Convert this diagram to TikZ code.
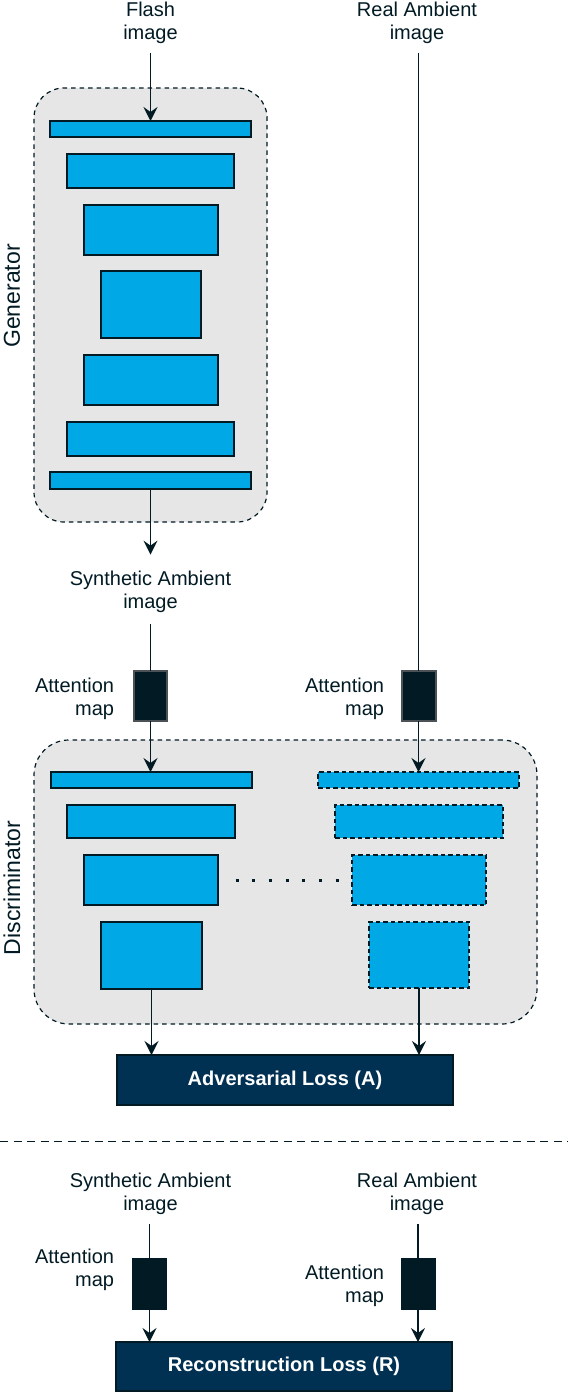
\documentclass[tikz,border=0pt]{standalone}
\usepackage{fontspec}
\setmainfont{Liberation Sans}
\usetikzlibrary{arrows.meta}
\definecolor{barblue}{HTML}{00A8E6}
\definecolor{ink}{HTML}{011A23}
\definecolor{panel}{HTML}{E6E6E6}
\definecolor{lossblue}{HTML}{003153}
\definecolor{attborder}{HTML}{4D5256}
\begin{document}
\begin{tikzpicture}[x=1pt,y=-1pt,
  every node/.style={inner sep=0pt, outer sep=0pt, font=\fontsize{20}{23.5}\selectfont, text=ink},
  container/.style={draw=ink, fill=panel, line width=1.2pt, dash pattern=on 4.5pt off 4pt, rectangle},
  bar/.style={draw=ink, fill=barblue, line width=2pt, rectangle},
  dbar/.style={bar, dash pattern=on 4.5pt off 3pt},
  attbox/.style={draw=attborder, fill=ink, line width=2pt, rectangle, minimum width=33pt, minimum height=50pt},
  attboxb/.style={draw=ink, fill=ink, line width=1pt, rectangle, minimum width=34pt, minimum height=51pt},
  loss/.style={draw=ink, fill=lossblue, line width=2pt, rectangle, minimum width=336pt, minimum height=50pt, text=white, font=\fontsize{20}{23.5}\selectfont\bfseries},
  lbl/.style={align=center},
  rlbl/.style={align=right, anchor=east},
  sidelbl/.style={rotate=90, font=\fontsize{23}{27}\selectfont},
  arr/.style={draw=ink, line width=1.5pt, -{Stealth[length=14pt, width=14pt, inset=5pt]}},
  conn/.style={draw=ink, line width=1.5pt},
]
\useasboundingbox (0,0) rectangle (568,1392);

% ---------- Generator ----------
\node[container, rounded corners=30pt, minimum width=233pt, minimum height=434pt] (gen) at (150.5,305) {};
\node[sidelbl] (genlbl) at (12,296) {Generator};
\node[bar, minimum width=201pt, minimum height=16pt] (g1) at (150.5,129) {};
\node[bar, minimum width=167pt, minimum height=34pt] (g2) at (150.5,171) {};
\node[bar, minimum width=134pt, minimum height=50pt] (g3) at (150.5,230) {};
\node[bar, minimum width=100pt, minimum height=67pt] (g4) at (150.5,304.5) {};
\node[bar, minimum width=134pt, minimum height=50pt] (g5) at (150.5,380) {};
\node[bar, minimum width=167pt, minimum height=34pt] (g6) at (150.5,439) {};
\node[bar, minimum width=201pt, minimum height=17pt] (g7) at (150.5,480.5) {};

\node[lbl] (flash) at (150.5,22.7) {Flash\\image};
\node[lbl] (real) at (417,22.7) {Real Ambient\\image};
\node[lbl] (synt) at (150.5,591.7) {Synthetic Ambient\\image};

\draw[arr, shorten <=9pt] (flash.south -| g1.north) -- (g1.north);
\draw[arr, shorten >=16pt] (g7.south) -- (g7.south |- synt.north);

% ---------- Attention maps (top) ----------
\node[attbox] (al1) at (150.5,696) {};
\node[attbox, minimum width=34pt] (ar1) at (418.5,696) {};
\node[rlbl] (attl1) at (114,698.7) {Attention\\map};
\node[rlbl] (attr1) at (384,698.7) {Attention\\map};

\draw[conn, shorten <=11pt] (synt.south -| al1.north) -- (al1.north);
\draw[conn, shorten <=9pt] (real.south -| ar1.north) -- (ar1.north);

% ---------- Discriminator ----------
\node[container, rounded corners=35pt, minimum width=503pt, minimum height=284pt] (disc) at (285.5,882) {};
\node[sidelbl] (disclbl) at (12,888) {Discriminator};

\node[bar, minimum width=201pt, minimum height=16pt] (dl1) at (151.5,780) {};
\node[bar, minimum width=168pt, minimum height=33pt] (dl2) at (151,821.5) {};
\node[bar, minimum width=134pt, minimum height=50pt] (dl3) at (151,880) {};
\node[bar, minimum width=101pt, minimum height=67pt] (dl4) at (151.5,955.5) {};

\node[dbar, minimum width=201pt, minimum height=16pt] (dr1) at (418.5,780) {};
\node[dbar, minimum width=168pt, minimum height=33pt] (dr2) at (419,821.5) {};
\node[dbar, minimum width=134pt, minimum height=50pt] (dr3) at (419,880) {};
\node[dbar, minimum width=100pt, minimum height=66pt] (dr4) at (419,955) {};

\draw[draw=ink, line width=3pt, dash pattern=on 3pt off 13.7pt, shorten <=17.5pt, shorten >=12pt] (dl3.east) -- (dr3.west);

\draw[arr] (al1.south) -- (al1.south |- dl1.north);
\draw[arr] (ar1.south) -- (ar1.south |- dr1.north);

\node[loss] (adv) at (285,1080) {Adversarial Loss (A)};
\draw[arr] (dl4.south) -- (dl4.south |- adv.north);
\draw[arr] (dr4.south) -- (dr4.south |- adv.north);

% ---------- Separator ----------
\draw[draw=ink, line width=1pt, dash pattern=on 8pt off 5.5pt] (0,1141) -- (568,1141);

% ---------- Reconstruction ----------
\node[lbl] (synt2) at (150.5,1193.7) {Synthetic Ambient\\image};
\node[lbl] (real2) at (417,1193.7) {Real Ambient\\image};
\node[attboxb] (bl) at (149.5,1283.5) {};
\node[attboxb] (br) at (418,1283.5) {};
\node[rlbl] (attl2) at (114,1269.7) {Attention\\map};
\node[rlbl] (attr2) at (384,1285.7) {Attention\\map};
\node[loss, minimum height=49pt] (rec) at (284,1366.5) {Reconstruction Loss (R)};

\draw[conn, shorten <=9pt] (synt2.south -| bl.north) -- (bl.north);
\draw[conn, shorten <=9pt] (real2.south -| br.north) -- (br.north);
\draw[arr] (bl.south) -- (bl.south |- rec.north);
\draw[arr] (br.south) -- (br.south |- rec.north);
\end{tikzpicture}
\end{document}
